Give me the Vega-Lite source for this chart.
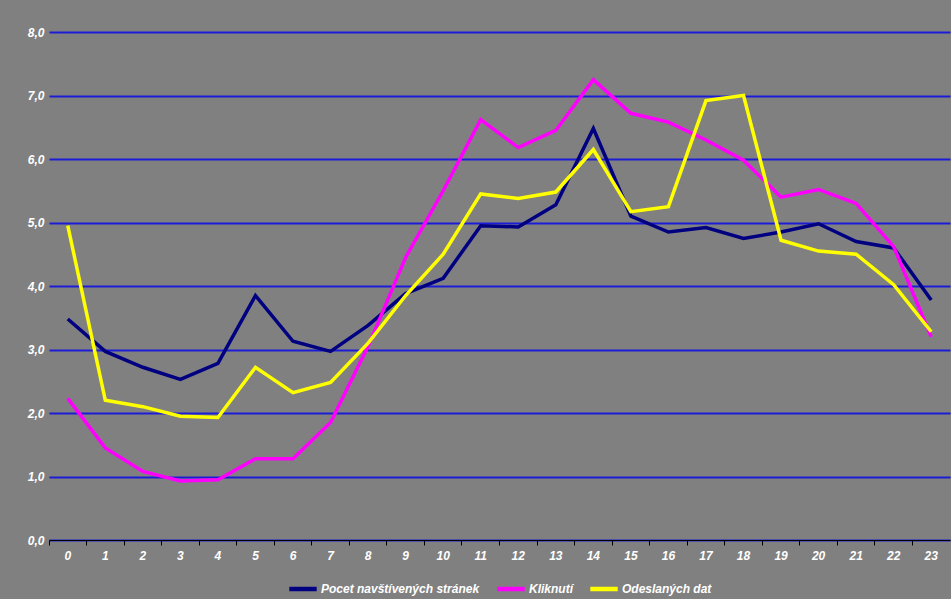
{
  "$schema": "https://vega.github.io/schema/vega-lite/v6.json",
  "autosize": {"type": "none"},
  "width": 901,
  "height": 508,
  "padding": {"left": 49, "top": 32, "right": 1, "bottom": 59},
  "background": "#808080",
  "config": {
    "view": {"stroke": null, "fill": "#808080"},
    "font": "Liberation Sans",
    "legend": {"layout": {"bottom": {"anchor": "middle"}}}
  },
  "data": {
    "values": [
      {"h": 0, "s": "Pocet navštívených stránek", "v": 3.48},
      {"h": 1, "s": "Pocet navštívených stránek", "v": 2.97},
      {"h": 2, "s": "Pocet navštívených stránek", "v": 2.72},
      {"h": 3, "s": "Pocet navštívených stránek", "v": 2.53},
      {"h": 4, "s": "Pocet navštívených stránek", "v": 2.78},
      {"h": 5, "s": "Pocet navštívených stránek", "v": 3.85},
      {"h": 6, "s": "Pocet navštívených stránek", "v": 3.13},
      {"h": 7, "s": "Pocet navštívených stránek", "v": 2.97},
      {"h": 8, "s": "Pocet navštívených stránek", "v": 3.38},
      {"h": 9, "s": "Pocet navštívených stránek", "v": 3.88},
      {"h": 10, "s": "Pocet navštívených stránek", "v": 4.12},
      {"h": 11, "s": "Pocet navštívených stránek", "v": 4.95},
      {"h": 12, "s": "Pocet navštívených stránek", "v": 4.93},
      {"h": 13, "s": "Pocet navštívených stránek", "v": 5.28},
      {"h": 14, "s": "Pocet navštívených stránek", "v": 6.48},
      {"h": 15, "s": "Pocet navštívených stránek", "v": 5.1},
      {"h": 16, "s": "Pocet navštívených stránek", "v": 4.85},
      {"h": 17, "s": "Pocet navštívených stránek", "v": 4.92},
      {"h": 18, "s": "Pocet navštívených stránek", "v": 4.75},
      {"h": 19, "s": "Pocet navštívených stránek", "v": 4.85},
      {"h": 20, "s": "Pocet navštívených stránek", "v": 4.98},
      {"h": 21, "s": "Pocet navštívených stránek", "v": 4.7},
      {"h": 22, "s": "Pocet navštívených stránek", "v": 4.6},
      {"h": 23, "s": "Pocet navštívených stránek", "v": 3.78},
      {"h": 0, "s": "Kliknutí", "v": 2.23},
      {"h": 1, "s": "Kliknutí", "v": 1.45},
      {"h": 2, "s": "Kliknutí", "v": 1.08},
      {"h": 3, "s": "Kliknutí", "v": 0.93},
      {"h": 4, "s": "Kliknutí", "v": 0.95},
      {"h": 5, "s": "Kliknutí", "v": 1.28},
      {"h": 6, "s": "Kliknutí", "v": 1.28},
      {"h": 7, "s": "Kliknutí", "v": 1.85},
      {"h": 8, "s": "Kliknutí", "v": 3.05},
      {"h": 9, "s": "Kliknutí", "v": 4.45},
      {"h": 10, "s": "Kliknutí", "v": 5.5},
      {"h": 11, "s": "Kliknutí", "v": 6.62},
      {"h": 12, "s": "Kliknutí", "v": 6.18},
      {"h": 13, "s": "Kliknutí", "v": 6.45},
      {"h": 14, "s": "Kliknutí", "v": 7.25},
      {"h": 15, "s": "Kliknutí", "v": 6.72},
      {"h": 16, "s": "Kliknutí", "v": 6.58},
      {"h": 17, "s": "Kliknutí", "v": 6.3},
      {"h": 18, "s": "Kliknutí", "v": 5.98},
      {"h": 19, "s": "Kliknutí", "v": 5.4},
      {"h": 20, "s": "Kliknutí", "v": 5.52},
      {"h": 21, "s": "Kliknutí", "v": 5.3},
      {"h": 22, "s": "Kliknutí", "v": 4.62},
      {"h": 23, "s": "Kliknutí", "v": 3.2},
      {"h": 0, "s": "Odeslaných dat", "v": 4.95},
      {"h": 1, "s": "Odeslaných dat", "v": 2.2},
      {"h": 2, "s": "Odeslaných dat", "v": 2.1},
      {"h": 3, "s": "Odeslaných dat", "v": 1.95},
      {"h": 4, "s": "Odeslaných dat", "v": 1.93},
      {"h": 5, "s": "Odeslaných dat", "v": 2.72},
      {"h": 6, "s": "Odeslaných dat", "v": 2.32},
      {"h": 7, "s": "Odeslaných dat", "v": 2.48},
      {"h": 8, "s": "Odeslaných dat", "v": 3.1},
      {"h": 9, "s": "Odeslaných dat", "v": 3.85},
      {"h": 10, "s": "Odeslaných dat", "v": 4.5},
      {"h": 11, "s": "Odeslaných dat", "v": 5.45},
      {"h": 12, "s": "Odeslaných dat", "v": 5.38},
      {"h": 13, "s": "Odeslaných dat", "v": 5.48},
      {"h": 14, "s": "Odeslaných dat", "v": 6.15},
      {"h": 15, "s": "Odeslaných dat", "v": 5.17},
      {"h": 16, "s": "Odeslaných dat", "v": 5.25},
      {"h": 17, "s": "Odeslaných dat", "v": 6.92},
      {"h": 18, "s": "Odeslaných dat", "v": 7.0},
      {"h": 19, "s": "Odeslaných dat", "v": 4.72},
      {"h": 20, "s": "Odeslaných dat", "v": 4.55},
      {"h": 21, "s": "Odeslaných dat", "v": 4.5},
      {"h": 22, "s": "Odeslaných dat", "v": 4.02},
      {"h": 23, "s": "Odeslaných dat", "v": 3.28}
    ]
  },
  "mark": {"type": "line", "strokeWidth": 3.5, "strokeJoin": "miter"},
  "encoding": {
    "x": {
      "field": "h",
      "type": "ordinal",
      "scale": {"type": "band", "paddingInner": 0, "paddingOuter": 0},
      "axis": {
        "title": null,
        "labelAngle": 0,
        "labelColor": "white",
        "labelFont": "Liberation Sans",
        "labelFontSize": 12,
        "labelFontWeight": "bold",
        "labelFontStyle": "italic",
        "labelPadding": 5,
        "domainColor": "black",
        "domainWidth": 1,
        "tickColor": "black",
        "tickSize": 5,
        "bandPosition": 0,
        "grid": false
      }
    },
    "y": {
      "field": "v",
      "type": "quantitative",
      "scale": {"domain": [0, 8], "nice": false},
      "axis": {
        "title": null,
        "values": [0, 1, 2, 3, 4, 5, 6, 7, 8],
        "format": ".1f",
        "labelExpr": "replace(datum.label, '.', ',')",
        "labelColor": "white",
        "labelFont": "Liberation Sans",
        "labelFontSize": 12,
        "labelFontWeight": "bold",
        "labelFontStyle": "italic",
        "labelPadding": 5,
        "domain": false,
        "ticks": false,
        "grid": true,
        "gridColor": "#1c1cd6",
        "gridWidth": 2,
        "gridOpacity": 1
      }
    },
    "color": {
      "field": "s",
      "type": "nominal",
      "sort": ["Pocet navštívených stránek", "Kliknutí", "Odeslaných dat"],
      "scale": {
        "domain": ["Pocet navštívených stránek", "Kliknutí", "Odeslaných dat"],
        "range": ["#000080", "#ff00ff", "#ffff00"]
      },
      "legend": {
        "title": null,
        "orient": "bottom",
        "direction": "horizontal",
        "symbolType": "stroke",
        "symbolStrokeWidth": 4.5,
        "symbolSize": 750,
        "labelColor": "white",
        "labelFont": "Liberation Sans",
        "labelFontSize": 12,
        "labelFontWeight": "bold",
        "labelFontStyle": "italic",
        "labelLimit": 300,
        "labelOffset": 2,
        "columnPadding": 8,
        "offset": 12
      }
    }
  }
}
